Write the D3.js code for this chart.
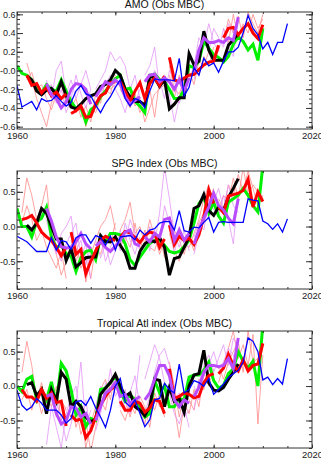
<!DOCTYPE html>
<html>
<head>
<meta charset="utf-8">
<script src="https://cdn.jsdelivr.net/npm/d3@7"></script>
<style>
body { margin: 0; background: #fff; }
svg { display: block; font-family: "Liberation Sans", Arial, sans-serif; }
</style>
</head>
<body>
<svg id="chart" width="321" height="459"></svg>
<script>
"use strict";

//First year of the full-length series
var blueStart = 1960, greenStart = 1960, blackStart = 1962;

//X axis ticks
var yearTicks = [1960, 1980, 2000, 2020];
var yearLabels = ["1960", "1980", "2000", "2020"];

//Y axis ticks
var amoTicks = [-0.6, -0.4, -0.2, 0, 0.2, 0.4, 0.6];
var amoTickLabels = ["-0.6", "-0.4", "-0.2", "-0.0", "0.2", "0.4", "0.6"];
var halfTicks = [-0.5, 0, 0.5];
var halfTickLabels = ["-0.5", "0.0", "0.5"];

var titles = ["AMO (Obs MBC)", "SPG Index (Obs MBC)", "Tropical Atl index (Obs MBC)"];

// ---------- AMO ----------
var amoBlue = [-0.16,-0.39,-0.36,-0.33,-0.42,-0.30,-0.33,-0.32,-0.27,-0.33,
  -0.38,-0.34,-0.22,-0.16,-0.25,-0.27,-0.37,-0.45,-0.35,-0.28,
  -0.18,-0.10,-0.30,-0.38,-0.30,-0.32,-0.40,-0.22,-0.09,-0.10,
  -0.10,-0.10,-0.11,0.13,-0.27,-0.18,0.03,-0.05,0.13,0.05,
  0.08,-0.02,0.10,0.20,0.20,0.25,0.40,0.59,0.45,0.38,
  0.23,0.30,0.17,0.30,0.30,0.50];
var amoBlack = [-0.06,-0.10,-0.22,-0.26,-0.21,-0.19,-0.26,-0.12,
  -0.27,-0.39,-0.41,-0.36,-0.30,-0.27,-0.25,-0.17,-0.15,-0.10,
  0.00,-0.05,-0.20,-0.28,-0.33,-0.33,-0.37,-0.06,-0.08,-0.17,
  -0.10,-0.41,-0.36,-0.29,-0.29,0.18,0.06,0.10,0.42,0.22,
  0.11,0.11,0.11,0.27,0.33,0.39];
var amoGreen = [0.05,-0.03,-0.05,-0.10,-0.19,-0.24,-0.15,-0.20,-0.22,-0.10,
  -0.22,-0.33,-0.41,-0.40,-0.55,-0.42,-0.38,-0.28,-0.22,-0.15,
  -0.09,-0.05,-0.20,-0.19,-0.33,-0.38,-0.45,-0.05,-0.04,-0.10,
  -0.12,-0.20,-0.30,-0.30,-0.20,0.05,0.03,0.10,0.31,0.24,
  0.17,0.14,0.09,0.15,0.28,0.36,0.31,0.22,0.28,0.11,
  0.45];
var amoRed = [
  [1962, [-0.05,-0.16,-0.14,-0.24,-0.18,-0.27,-0.23,-0.30,-0.25]],
  [1971, [-0.46,-0.43,-0.38,-0.50,-0.49,-0.36,-0.27,-0.24,-0.13,-0.12]],
  [1981, [-0.12,-0.22,-0.33,-0.22,-0.13,-0.30,-0.14,-0.08,-0.16,-0.06]],
  [1991, [0.14,-0.10,-0.12,-0.08,-0.05,-0.04,0.01,0.06,0.09,0.10,0.27]],
  [2002, [0.35,0.45,0.46,0.38,0.45,0.50,0.40,0.34,0.49]]
];
var amoPurple = [
  [1966, [-0.14,-0.26,-0.30,-0.40,-0.34,-0.20,-0.14,-0.15,-0.20,-0.36]],
  [1976, [-0.28,-0.20,-0.12,-0.15,-0.10,-0.15,-0.28,-0.36,-0.32,-0.28]],
  [1986, [-0.12,-0.05,-0.04,-0.12,-0.08,-0.12,-0.20,-0.10,-0.22,-0.08]],
  [1996, [-0.02,0.22,0.35,0.30,0.30,0.32,0.30,0.35,0.32,0.57]]
];
var amoPink = [
  [1962, [0.08,-0.10,-0.30,-0.45,-0.60,-0.35,-0.20,-0.40,-0.30]],
  [1962, [-0.10,-0.02,-0.20,-0.15,-0.30,-0.42,-0.25,-0.15,-0.35]],
  [1971, [-0.30,-0.45,-0.35,-0.60,-0.40,-0.45,-0.30,-0.20,-0.25,-0.05]],
  [1971, [-0.40,-0.30,-0.50,-0.38,-0.55,-0.25,-0.35,-0.10,-0.20,-0.15]],
  [1981, [-0.20,-0.30,-0.40,-0.25,-0.45,-0.35,-0.20,-0.50,-0.10,-0.05]],
  [1981, [-0.05,-0.25,-0.20,-0.38,-0.30,-0.55,-0.40,-0.25,-0.20,-0.15]],
  [1991, [0.05,-0.20,-0.25,-0.10,0.00,-0.15,0.10,0.05,0.20,0.15]],
  [1991, [-0.05,-0.30,-0.05,-0.18,-0.10,0.05,-0.05,0.15,0.05,0.25]],
  [2002, [0.45,0.30,0.60,0.35,0.50,0.40,0.60,0.45,0.55]],
  [2002, [0.30,0.55,0.40,0.58,0.35,0.62,0.50,0.40,0.60]]
];
var amoViolet = [
  [1966, [-0.10,-0.30,0.00,0.10,-0.25,-0.10,-0.30,-0.15,0.00,-0.20]],
  [1966, [-0.20,-0.15,-0.35,-0.20,-0.45,-0.30,-0.05,-0.25,-0.40,-0.20]],
  [1976, [-0.20,-0.10,0.00,0.20,0.10,0.15,0.05,-0.20,-0.05,-0.30]],
  [1976, [-0.35,-0.25,-0.15,-0.05,-0.20,-0.30,-0.45,-0.25,-0.35,-0.20]],
  [1986, [-0.05,0.05,0.25,-0.20,-0.05,-0.25,-0.55,-0.30,-0.10,0.05]],
  [1986, [-0.20,-0.15,0.00,-0.10,-0.30,0.00,-0.10,-0.35,-0.20,-0.15]],
  [1996, [0.05,0.35,0.25,0.50,0.30,0.20,0.45,0.25,0.15,0.55]],
  [1996, [-0.10,0.15,0.40,0.20,0.45,0.35,0.25,0.50,0.40,0.35]]
];

// ---------- SPG ----------
var spgBlue = [-0.14,-0.18,-0.22,-0.29,-0.36,-0.36,-0.36,-0.16,-0.34,-0.20,
  -0.22,-0.33,-0.16,-0.12,-0.12,-0.24,-0.13,-0.16,-0.27,-0.14,
  -0.34,-0.15,-0.14,-0.13,-0.19,-0.05,-0.12,-0.05,-0.03,0.05,
  0.07,0.07,-0.05,0.23,-0.06,-0.08,-0.01,-0.02,0.06,0.13,
  -0.08,0.06,0.07,0.06,0.06,0.06,0.06,0.40,0.38,0.37,
  0.08,0.04,-0.04,0.04,-0.08,0.11];
var spgBlack = [0.02,-0.05,0.05,0.26,0.19,0.00,-0.18,-0.18,
  -0.49,-0.32,-0.58,-0.52,-0.45,-0.44,-0.44,-0.13,-0.22,-0.22,
  -0.15,-0.27,-0.38,-0.60,-0.60,-0.36,-0.25,-0.20,-0.22,-0.16,
  -0.30,-0.70,-0.46,-0.44,-0.30,-0.15,0.26,0.30,0.46,0.23,
  0.16,0.28,0.23,0.42,0.55,0.69];
var spgGreen = [0.26,0.00,0.00,-0.15,0.07,0.12,0.28,-0.15,-0.30,-0.27,
  -0.39,-0.43,-0.65,-0.45,-0.36,-0.34,-0.48,-0.15,-0.22,-0.10,
  -0.10,-0.12,-0.25,-0.48,-0.56,-0.44,-0.34,-0.24,-0.20,-0.20,
  -0.27,-0.36,-0.38,-0.36,-0.29,-0.20,0.05,0.33,0.42,0.19,
  0.35,0.15,0.05,0.35,0.40,0.45,0.55,0.45,0.30,0.21,
  0.88];
var spgRed = [
  [1961, [0.10,0.12,0.16,0.05,-0.08,-0.15,-0.20,-0.30,-0.42,-0.30]],
  [1971, [-0.08,-0.40,-0.33,-0.68,-0.50,-0.35,-0.20,-0.14,-0.18,-0.20]],
  [1981, [-0.15,-0.07,-0.09,-0.16,-0.23,-0.13,-0.08,-0.10,-0.30,-0.18]],
  [1991, [0.02,-0.26,-0.14,-0.20,-0.17,-0.26,-0.12,0.14,0.53,0.33]],
  [2001, [0.28,0.20,0.44,0.46,0.48,0.52,0.68,0.28,0.50,0.36]]
];
var spgPurple = [
  [1966, [0.26,0.08,-0.15,-0.29,-0.31,-0.30,-0.22,-0.10,-0.25,-0.32]],
  [1976, [-0.28,-0.22,-0.30,-0.36,-0.28,-0.20,-0.08,-0.05,-0.25,-0.28]],
  [1986, [-0.15,-0.22,-0.10,-0.15,0.10,0.12,-0.20,-0.05,-0.20,-0.10]],
  [1996, [-0.25,-0.05,0.12,0.28,0.48,0.30,0.24,0.12,0.04,0.40]]
];
var spgPink = [
  [1961, [0.20,0.70,0.45,0.10,0.30,0.60,-0.10,-0.40,-0.70,-0.50]],
  [1961, [0.05,0.30,0.10,-0.20,-0.05,-0.30,-0.45,-0.60,-0.35,-0.75]],
  [1971, [-0.20,-0.50,-0.30,-0.80,-0.40,-0.20,0.00,0.10,0.30,-0.05]],
  [1971, [-0.35,-0.20,-0.60,-0.45,-0.75,-0.30,-0.40,-0.15,-0.25,0.05]],
  [1981, [-0.05,0.10,0.35,-0.10,0.00,-0.25,0.10,-0.15,-0.40,-0.20]],
  [1981, [-0.30,-0.15,-0.30,0.05,-0.35,-0.05,-0.30,-0.35,-0.10,-0.45]],
  [1991, [-0.10,-0.35,-0.50,-0.25,-0.30,-0.10,0.10,0.40,0.60,0.30]],
  [1991, [0.15,-0.05,-0.20,-0.40,-0.15,-0.35,0.05,0.20,0.35,0.55]],
  [2001, [0.40,0.25,0.60,0.45,0.75,0.50,0.80,0.55,0.30,0.45]],
  [2001, [0.20,0.45,0.35,0.70,0.40,0.85,0.45,0.60,0.50,0.35]]
];
var spgViolet = [
  [1966, [0.10,-0.20,-0.40,-0.10,0.00,0.15,-0.35,-0.20,-0.55,-0.30]],
  [1966, [0.20,0.00,-0.30,-0.50,-0.25,-0.10,0.05,-0.45,-0.25,-0.75]],
  [1976, [-0.40,-0.15,-0.50,-0.30,-0.10,-0.35,0.05,-0.20,-0.40,-0.15]],
  [1976, [-0.20,-0.45,-0.25,-0.55,-0.35,-0.05,-0.25,0.10,-0.10,-0.35]],
  [1986, [-0.30,0.00,-0.25,0.20,0.85,0.40,-0.10,-0.30,-0.05,-0.35]],
  [1986, [-0.10,-0.35,-0.05,-0.25,0.30,0.05,-0.40,0.00,-0.25,-0.20]],
  [1996, [-0.40,-0.10,0.20,0.10,0.35,0.55,0.25,0.60,0.30,0.20]],
  [1996, [-0.15,0.05,-0.05,0.40,0.25,0.15,0.45,0.10,-0.25,0.50]]
];

// ---------- Tropical Atlantic ----------
var tropBlue = [-0.06,-0.28,-0.35,-0.30,-0.18,-0.25,-0.35,-0.35,-0.35,-0.42,
  -0.54,-0.47,-0.23,-0.21,-0.28,-0.15,-0.32,-0.45,-0.60,-0.35,
  0.00,0.11,-0.23,-0.30,-0.20,-0.40,-0.59,-0.49,-0.20,-0.18,
  0.04,-0.05,-0.10,0.32,-0.10,-0.05,0.08,0.05,0.00,0.11,
  -0.12,-0.05,0.03,0.12,0.18,0.23,0.35,0.70,0.65,0.50,
  0.09,0.13,0.02,0.11,0.03,0.40];
var tropBlack = [0.02,0.05,-0.14,-0.05,-0.40,-0.05,-0.22,0.20,
  0.10,-0.30,-0.22,-0.30,-0.45,-0.52,-0.48,-0.12,-0.03,0.05,
  0.17,0.00,-0.15,-0.10,-0.30,-0.35,-0.43,-0.30,0.10,0.08,
  -0.30,-0.02,-0.22,-0.18,-0.38,0.00,0.16,0.18,0.52,0.05,
  -0.06,-0.07,-0.02,0.10,0.20,0.32];
var tropGreen = [0.00,-0.08,0.10,0.14,-0.20,-0.05,-0.20,0.06,-0.25,0.33,
  0.22,-0.05,-0.42,-0.30,-0.59,-0.47,-0.50,-0.05,-0.03,0.05,
  0.14,-0.08,-0.22,-0.13,-0.20,-0.30,-0.45,-0.40,0.08,-0.10,
  0.00,-0.30,-0.30,-0.18,-0.20,0.13,0.16,0.16,0.23,0.35,
  0.08,-0.03,0.01,0.18,0.25,0.50,0.36,0.26,0.36,0.00,
  0.90];
var tropRed = [
  [1961, [-0.05,-0.16,-0.16,-0.22,-0.05,-0.18,-0.10,-0.24,-0.22,-0.58]],
  [1971, [-0.42,-0.50,-0.48,-0.75,-0.65,-0.45,-0.28,-0.15,-0.05,0.00]],
  [1981, [-0.22,-0.35,-0.35,-0.22,-0.25,-0.38,-0.32,-0.20,-0.22,-0.40]],
  [1991, [0.25,-0.18,-0.15,-0.10,-0.12,-0.17,-0.15,0.05,0.15,0.18]],
  [2001, [0.18,0.26,0.46,0.30,0.22,0.38,0.22,0.30,0.32,0.62]]
];
var tropPurple = [
  [1966, [-0.15,-0.12,-0.40,-0.55,-0.50,-0.30,-0.32,-0.45,-0.40,-0.55]],
  [1976, [-0.50,-0.30,-0.10,-0.05,0.05,-0.15,-0.12,-0.25,-0.20,-0.15]],
  [1986, [-0.20,-0.10,0.10,0.30,0.30,0.15,-0.20,-0.30,-0.20,-0.25]],
  [1996, [-0.15,-0.02,0.20,0.30,0.30,0.28,0.30,0.40,0.25,0.70]]
];
var tropPink = [
  [1961, [0.20,0.65,0.30,-0.20,0.05,-0.30,-0.10,-0.45,-0.20,-0.35]],
  [1961, [-0.20,-0.05,-0.35,-0.10,-0.40,-0.15,-0.30,0.00,-0.50,-0.30]],
  [1971, [-0.20,-0.60,-0.35,-0.90,-0.55,-0.30,-0.05,0.10,-0.20,0.20]],
  [1971, [-0.50,-0.30,-0.70,-0.50,-0.95,-0.60,-0.20,-0.35,0.05,-0.10]],
  [1981, [0.00,-0.20,-0.45,-0.15,-0.35,-0.55,-0.20,-0.35,-0.10,-0.45]],
  [1981, [-0.35,-0.50,-0.25,-0.40,-0.15,-0.30,-0.60,-0.10,-0.30,-0.20]],
  [1991, [0.10,-0.30,-0.75,-0.25,-0.40,-0.05,-0.30,0.20,0.00,0.25]],
  [1991, [0.35,0.00,-0.45,-0.10,-0.20,-0.35,0.10,-0.05,0.30,0.05]],
  [2001, [0.05,0.30,0.55,0.80,0.40,0.60,0.30,0.75,-0.55,0.45]],
  [2001, [0.30,0.10,0.35,0.50,0.65,0.20,0.80,0.35,0.40,0.70]]
];
var tropViolet = [
  [1966, [-0.85,-0.30,-0.60,-0.90,-0.40,-0.15,0.00,-0.50,-0.20,-0.70]],
  [1966, [-0.30,0.00,-0.25,-0.45,-0.80,-0.55,-0.25,0.35,-0.60,-0.35]],
  [1976, [-0.30,0.00,-0.20,0.25,-0.15,0.00,-0.35,-0.10,0.15,-0.30]],
  [1976, [-0.65,-0.40,0.05,-0.10,0.20,-0.30,-0.05,-0.40,-0.20,0.45]],
  [1986, [0.10,0.35,0.60,0.40,0.05,-0.10,-0.40,-0.55,-0.30,-0.60]],
  [1986, [-0.40,-0.15,0.20,0.45,0.55,0.30,-0.20,-0.10,-0.45,-0.35]],
  [1996, [-0.35,0.05,0.30,0.45,0.20,0.40,0.60,0.30,0.70,0.55]],
  [1996, [0.00,-0.20,0.15,0.30,0.50,0.25,0.35,0.55,0.45,0.20]]
];

//Panel setup built from the arrays above
var panels = [
  {title: titles[0], top: 12, bottom: 129, domain: [-0.625, 0.625], ticks: amoTicks, labels: amoTickLabels, minorStep: 0.05,
   blue: amoBlue, black: amoBlack, green: amoGreen, red: amoRed, purple: amoPurple, pink: amoPink, violet: amoViolet},
  {title: titles[1], top: 171, bottom: 289, domain: [-0.9, 0.8], ticks: halfTicks, labels: halfTickLabels, minorStep: 0.1,
   blue: spgBlue, black: spgBlack, green: spgGreen, red: spgRed, purple: spgPurple, pink: spgPink, violet: spgViolet},
  {title: titles[2], top: 331, bottom: 448, domain: [-0.9, 0.8], ticks: halfTicks, labels: halfTickLabels, minorStep: 0.1,
   blue: tropBlue, black: tropBlack, green: tropGreen, red: tropRed, purple: tropPurple, pink: tropPink, violet: tropViolet}
];

var svg = d3.select("#chart");
var left = 17, right = 312;

var x = d3.scaleLinear().domain([1960, 2020]).range([left, right]);

//Turns a start year and a list of values into [year, value] points
function toPoints(start, vals) {
  return vals.map(function(v, i) { return [start + i, v]; });
}

panels.forEach(function(p, pi) {
  var y = d3.scaleLinear().domain(p.domain).range([p.bottom, p.top]);
  var line = d3.line()
    .x(function(d) { return x(d[0]); })
    .y(function(d) { return y(d[1]); });

  var g = svg.append("g");

  g.append("clipPath").attr("id", "clip" + pi)
    .append("rect")
    .attr("x", left).attr("y", p.top)
    .attr("width", right - left).attr("height", p.bottom - p.top);

  var plot = g.append("g").attr("clip-path", "url(#clip" + pi + ")");

  //thin ensemble members
  plot.selectAll(".pink").data(p.pink).enter().append("path")
    .attr("class", "pink")
    .attr("d", function(s) { return line(toPoints(s[0], s[1])); })
    .attr("fill", "none").attr("stroke", "#ff8a8a").attr("stroke-width", 0.8);

  plot.selectAll(".violet").data(p.violet).enter().append("path")
    .attr("class", "violet")
    .attr("d", function(s) { return line(toPoints(s[0], s[1])); })
    .attr("fill", "none").attr("stroke", "#e396f7").attr("stroke-width", 0.8);

  //observations
  plot.append("path")
    .attr("d", line(toPoints(greenStart, p.green)))
    .attr("fill", "none").attr("stroke", "#00f000").attr("stroke-width", 3);

  plot.append("path")
    .attr("d", line(toPoints(blackStart, p.black)))
    .attr("fill", "none").attr("stroke", "#000").attr("stroke-width", 3);

  //ensemble means
  plot.selectAll(".red").data(p.red).enter().append("path")
    .attr("class", "red")
    .attr("d", function(s) { return line(toPoints(s[0], s[1])); })
    .attr("fill", "none").attr("stroke", "#ff0000").attr("stroke-width", 3);

  plot.selectAll(".purple").data(p.purple).enter().append("path")
    .attr("class", "purple")
    .attr("d", function(s) { return line(toPoints(s[0], s[1])); })
    .attr("fill", "none").attr("stroke", "#b94cff").attr("stroke-width", 3);

  plot.append("path")
    .attr("d", line(toPoints(blueStart, p.blue)))
    .attr("fill", "none").attr("stroke", "#0000ff").attr("stroke-width", 1.3);

  //Minor tick positions
  var minorY = d3.range(Math.ceil(p.domain[0] / p.minorStep) * p.minorStep, p.domain[1] + 1e-6, p.minorStep)
    .filter(function(v) { return v >= p.domain[0] && v <= p.domain[1]; });
  var minorX = d3.range(1960, 2021, 5);

  function clean(sel, size) {
    sel.select(".domain").remove();
    sel.selectAll("line").attr("stroke", "#333");
    sel.selectAll("text").attr("fill", "#222").style("font-size", (size || 10) + "px")
      .style("font-family", "'Liberation Sans', Arial, sans-serif");
  }

  //Left axis
  g.append("g").attr("transform", "translate(" + left + ",0)")
    .call(d3.axisLeft(y).tickValues(minorY).tickFormat("").tickSize(-3))
    .call(clean);
  g.append("g").attr("transform", "translate(" + left + ",0)")
    .call(d3.axisLeft(y).tickValues(p.ticks)
      .tickFormat(function(d, i) { return p.labels[i]; })
      .tickSize(-6).tickPadding(1.5))
    .call(clean, 9);

  //Right axis
  g.append("g").attr("transform", "translate(" + right + ",0)")
    .call(d3.axisRight(y).tickValues(minorY).tickFormat("").tickSize(-3))
    .call(clean);
  g.append("g").attr("transform", "translate(" + right + ",0)")
    .call(d3.axisRight(y).tickValues(p.ticks).tickFormat("").tickSize(-6))
    .call(clean);

  //Bottom axis
  g.append("g").attr("transform", "translate(0," + p.bottom + ")")
    .call(d3.axisBottom(x).tickValues(minorX).tickFormat("").tickSize(-2))
    .call(clean);
  g.append("g").attr("transform", "translate(0," + p.bottom + ")")
    .call(d3.axisBottom(x).tickValues(yearTicks)
      .tickFormat(function(d, i) { return yearLabels[i]; })
      .tickSize(-3.5).tickPadding(3.5))
    .call(clean, 9.5);

  //Top axis
  g.append("g").attr("transform", "translate(0," + p.top + ")")
    .call(d3.axisTop(x).tickValues(minorX).tickFormat("").tickSize(-2))
    .call(clean);
  g.append("g").attr("transform", "translate(0," + p.top + ")")
    .call(d3.axisTop(x).tickValues(yearTicks).tickFormat("").tickSize(-3.5))
    .call(clean);

  //Plot box
  g.append("rect")
    .attr("x", left).attr("y", p.top)
    .attr("width", right - left).attr("height", p.bottom - p.top)
    .attr("fill", "none").attr("stroke", "#333").attr("stroke-width", 1);

  //Title
  g.append("text")
    .attr("x", (left + right) / 2)
    .attr("y", p.top - 4)
    .attr("text-anchor", "middle")
    .attr("fill", "#111")
    .style("font-size", "10.5px")
    .text(p.title);
});
</script>
</body>
</html>
